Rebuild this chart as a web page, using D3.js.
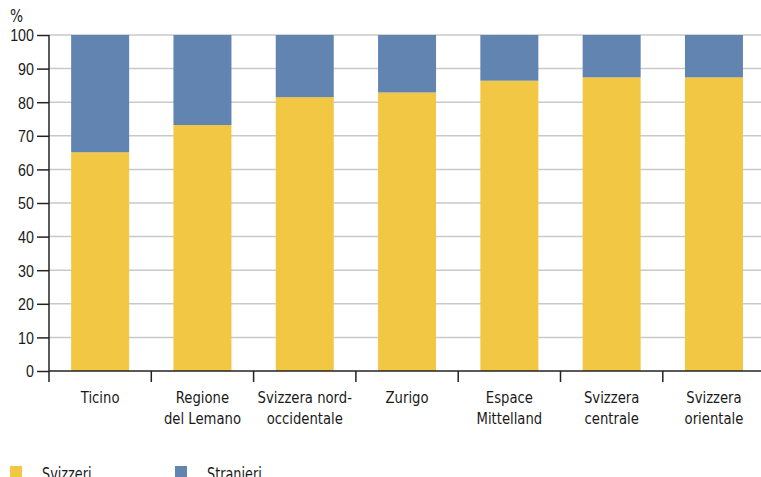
<!DOCTYPE html>
<html><head><meta charset="utf-8">
<script src="https://cdn.jsdelivr.net/npm/d3@7"></script>
<style>
body{margin:0;background:#fff;}
svg{display:block;font-family:"DejaVu Sans Condensed","Liberation Sans Narrow",sans-serif;font-stretch:condensed;}
</style></head><body>
<svg id="c" width="761" height="477"></svg>
<script>
const categories = [["Ticino"],["Regione","del Lemano"],["Svizzera nord-","occidentale"],["Zurigo"],["Espace","Mittelland"],["Svizzera","centrale"],["Svizzera","orientale"]];
const svizzeri = [65.1, 73.2, 81.5, 82.9, 86.4, 87.4, 87.4];
const stranieri = svizzeri.map(v => 100 - v);
const yTicks = [0,10,20,30,40,50,60,70,80,90,100];
const seriesNames = ["Svizzeri","Stranieri"];
const colors = ["#f2c744","#6184b0"];

(function(){
const svg = d3.select("#c");
const mLeft = 49, mTop = 35, mBottom = 371, step = 102.3;
const x = d3.scaleBand().domain(d3.range(categories.length)).range([mLeft, mLeft + step*categories.length]).paddingInner(0).paddingOuter(0);
const y = d3.scaleLinear().domain([0,100]).range([mBottom, mTop]);
const bw = 58;
const ink = "#1a1a1a";

svg.append("g").selectAll("line").data(yTicks.filter(d=>d>0)).join("line")
  .attr("x1", mLeft).attr("x2", 761).attr("y1", d=>y(d)).attr("y2", d=>y(d))
  .attr("stroke","#c9c9c9").attr("stroke-width",1.5);

const g = svg.append("g");
categories.forEach((c,i)=>{
  const cx = x(i) + x.bandwidth()/2;
  g.append("rect").attr("x", cx-bw/2).attr("width", bw)
    .attr("y", y(svizzeri[i])).attr("height", y(0)-y(svizzeri[i])).attr("fill", colors[0]);
  g.append("rect").attr("x", cx-bw/2).attr("width", bw)
    .attr("y", y(svizzeri[i]+stranieri[i])).attr("height", y(svizzeri[i]) - y(svizzeri[i]+stranieri[i])).attr("fill", colors[1]);
});

const ya = svg.append("g").attr("transform",`translate(${mLeft},0)`)
  .call(d3.axisLeft(y).tickValues(yTicks).tickSize(12).tickPadding(3));
ya.select(".domain").attr("d", `M0,${mTop}V${mBottom}`).attr("stroke","#222").attr("stroke-width",1.5);
ya.selectAll(".tick line").attr("stroke","#222").attr("stroke-width",1.5);
ya.selectAll(".tick text").attr("font-size",17).attr("fill",ink).attr("font-family","inherit")
  .attr("x",0).attr("dy",null).attr("dominant-baseline","central")
  .attr("transform","translate(-15,0) scale(0.84,1)");

svg.append("text").attr("transform","translate(10,22) scale(0.9,1)").attr("font-size",17).attr("fill",ink).text("%");

svg.append("line").attr("x1",mLeft).attr("x2",761).attr("y1",mBottom).attr("y2",mBottom).attr("stroke","#222").attr("stroke-width",1.5);
svg.append("g").selectAll("line").data(d3.range(categories.length)).join("line")
  .attr("x1",d=>x(d)).attr("x2",d=>x(d)).attr("y1",mBottom).attr("y2",mBottom+11)
  .attr("stroke","#222").attr("stroke-width",1.5);
const lab = svg.append("g").selectAll("text").data(categories).join("text")
  .attr("text-anchor","middle").attr("font-size",16.5).attr("fill",ink)
  .attr("transform",(d,i)=>`translate(${x(i)+x.bandwidth()/2},${403}) scale(0.89,1)`);
lab.selectAll("tspan").data(d=>d).join("tspan").attr("x",0).attr("dy",(d,j)=>j===0?0:21).text(d=>d);

const leg = svg.append("g");
const lx = [10, 175];
seriesNames.forEach((n,i)=>{
  leg.append("rect").attr("x",lx[i]).attr("y",466).attr("width",12).attr("height",12).attr("fill",colors[i]);
  leg.append("text").attr("transform",`translate(${lx[i]+32},480) scale(0.84,1)`).attr("font-size",17).attr("fill",ink).text(n);
});
})();
</script></body></html>
